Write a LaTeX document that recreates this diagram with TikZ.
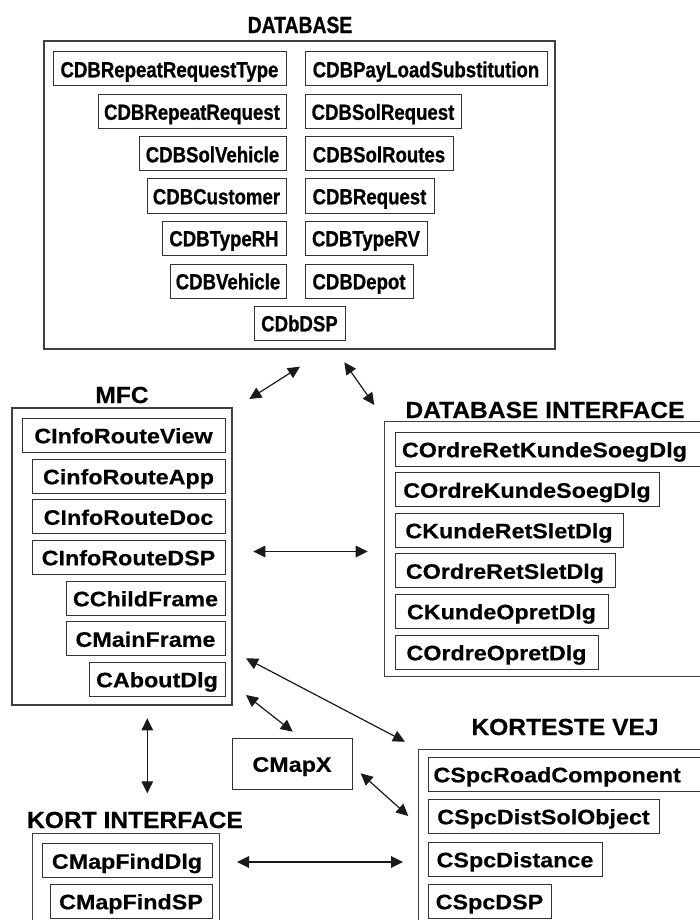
\documentclass[tikz,border=0pt]{standalone}
\usepackage{fontspec}
\setmainfont{Liberation Sans}
\newfontfamily\dbfont{Liberation Sans}[FakeStretch=0.85, FakeBold=0.8]
\newfontfamily\dbtitlefont{Liberation Sans}[FakeStretch=0.83, FakeBold=0.8]
\newfontfamily\wideclsfont{Liberation Sans}[FakeStretch=1.11, FakeBold=0.4]
\newfontfamily\titlefont{Liberation Sans}[FakeStretch=1.055, FakeBold=0.4]
\usetikzlibrary{arrows.meta}

\tikzset{
  grp/.style={draw=black!75, line width=1.1pt, inner sep=0pt},
  cls/.style={draw=black!80, line width=1pt, inner sep=0pt, minimum height=34pt,
    text height=21pt, text depth=4.4pt,
    font=\wideclsfont\bfseries\fontsize{21}{25}\selectfont},
  dbcls/.style={cls, text height=21pt, text depth=4.4pt,
    font=\dbfont\bfseries\fontsize{21.9}{26}\selectfont},
  leftcls/.style={cls, anchor=west, align=left},
  ttl/.style={inner sep=0pt, font=\titlefont\bfseries\fontsize{23.3}{28}\selectfont},
  dbttl/.style={inner sep=0pt, font=\dbtitlefont\bfseries\fontsize{23.3}{28}\selectfont},
  link/.style={line width=1.2pt, draw=black!90,
    {Triangle[length=12pt,width=11.5pt]}-{Triangle[length=12pt,width=11.5pt]}},
}

\begin{document}
\begin{tikzpicture}[x=1pt, y=-1pt]
\useasboundingbox (0,0) rectangle (699,920);

% ---------- DATABASE ----------
\node[dbttl] (dbtitle) at (300,25) {DATABASE};
\node[grp, minimum width=511pt, minimum height=308pt] (db) at (299.5,195) {};
\node[dbcls, minimum width=233pt] (rrt)  at (169.5,69)  {CDBRepeatRequestType};
\node[dbcls, minimum width=242pt] (pls)  at (426,69)    {CDBPayLoadSubstitution};
\node[dbcls, minimum width=188pt] (rr)   at (192,111.5) {CDBRepeatRequest};
\node[dbcls, minimum width=156pt] (sreq) at (383,111.5) {CDBSolRequest};
\node[dbcls, minimum width=147pt] (sveh) at (212.5,154) {CDBSolVehicle};
\node[dbcls, minimum width=148pt] (srt)  at (379,154)   {CDBSolRoutes};
\node[dbcls, minimum width=139pt] (cust) at (216.5,196) {CDBCustomer};
\node[dbcls, minimum width=129pt] (req)  at (369.5,196) {CDBRequest};
\node[dbcls, minimum width=124pt] (trh)  at (224,238)   {CDBTypeRH};
\node[dbcls, minimum width=122pt] (trv)  at (366,238)   {CDBTypeRV};
\node[dbcls, minimum width=116pt] (veh)  at (228,281)   {CDBVehicle};
\node[dbcls, minimum width=108pt] (dep)  at (359,281)   {CDBDepot};
\node[dbcls, minimum width=91pt]  (dsp)  at (299.5,323) {CDbDSP};

% ---------- MFC ----------
\node[ttl] (mfctitle) at (122,395) {MFC};
\node[grp, minimum width=220pt, minimum height=297pt] (mfc) at (122,556.5) {};
\node[cls, minimum width=203pt] (irv)  at (123.5,435) {CInfoRouteView};
\node[cls, minimum width=193pt] (ira)  at (128.5,476) {CinfoRouteApp};
\node[cls, minimum width=193pt] (ird)  at (128.5,516.5) {CInfoRouteDoc};
\node[cls, minimum width=193pt] (irs)  at (128.5,557) {CInfoRouteDSP};
\node[cls, minimum width=159pt] (chf)  at (145.5,598) {CChildFrame};
\node[cls, minimum width=159pt] (mnf)  at (145.5,638.5) {CMainFrame};
\node[cls, minimum width=136pt] (abt)  at (157,679) {CAboutDlg};

% ---------- DATABASE INTERFACE ----------
\node[ttl] (dbititle) at (545,410) {DATABASE INTERFACE};
\node[grp, anchor=north west, minimum width=320pt, minimum height=255pt] (dbi) at (384,421) {};
\node[leftcls, minimum width=305pt, text width=292pt, inner xsep=6.5pt] (orks) at (395,449) {COrdreRetKundeSoegDlg};
\node[cls, minimum width=264pt] (oks) at (527,489.5) {COrdreKundeSoegDlg};
\node[cls, minimum width=228pt] (krs) at (509,530)   {CKundeRetSletDlg};
\node[cls, minimum width=220pt] (ors) at (505,570.5) {COrdreRetSletDlg};
\node[cls, minimum width=213pt] (kod) at (501.5,611) {CKundeOpretDlg};
\node[cls, minimum width=203pt] (ood) at (496.5,652) {COrdreOpretDlg};

% ---------- CMapX ----------
\node[cls, minimum width=120pt, minimum height=51pt] (mapx) at (292,763.5) {CMapX};

% ---------- KORTESTE VEJ ----------
\node[ttl] (kvtitle) at (565,727) {KORTESTE VEJ};
\node[grp, anchor=north west, minimum width=290pt, minimum height=190pt] (kv) at (418,749) {};
\node[leftcls, minimum width=275pt, text width=265pt, inner xsep=5pt] (road) at (428,774) {CSpcRoadComponent};
\node[cls, minimum width=231pt] (dso)  at (543.5,816) {CSpcDistSolObject};
\node[cls, minimum width=174pt] (dist) at (515,859)   {CSpcDistance};
\node[cls, minimum width=123pt] (sdsp) at (489.5,901) {CSpcDSP};

% ---------- KORT INTERFACE ----------
\node[ttl] (kititle) at (135,820) {KORT INTERFACE};
\node[grp, anchor=north west, minimum width=187pt, minimum height=110pt] (ki) at (32,833) {};
\node[cls, minimum width=170pt] (mfd) at (127,860.5) {CMapFindDlg};
\node[cls, minimum width=162pt] (mfs) at (131,901)   {CMapFindSP};

% ---------- connector ends ----------
\coordinate (dbL)   at (300,366.7);
\coordinate (mfcT)  at (249.3,399);
\coordinate (dbR)   at (344.3,362.3);
\coordinate (dbiT)  at (374.3,405);
\coordinate (mfcR)  at (253.3,551.5);
\coordinate (dbiL)  at (367.7,551.5);
\coordinate (mfcB1) at (246,658.3);
\coordinate (kvT)   at (405,741.7);
\coordinate (mfcB2) at (246,695);
\coordinate (mapxT) at (292.7,731.7);
\coordinate (mfcB3) at (147.3,718.3);
\coordinate (kiT)   at (147.3,793.3);
\coordinate (mapxR) at (360.7,773.3);
\coordinate (kvL)   at (408.3,816);
\coordinate (kiR)   at (237,862);
\coordinate (kvL2)  at (403,862);

% ---------- connectors ----------
\draw[link] (mfcT) -- (dbL);
\draw[link] (dbR) -- (dbiT);
\draw[link] (mfcR) -- (dbiL);
\draw[link] (mfcB1) -- (kvT);
\draw[link] (mfcB2) -- (mapxT);
\draw[link] (mfcB3) -- (kiT);
\draw[link] (mapxR) -- (kvL);
\draw[link] (kiR) -- (kvL2);
\end{tikzpicture}
\end{document}
